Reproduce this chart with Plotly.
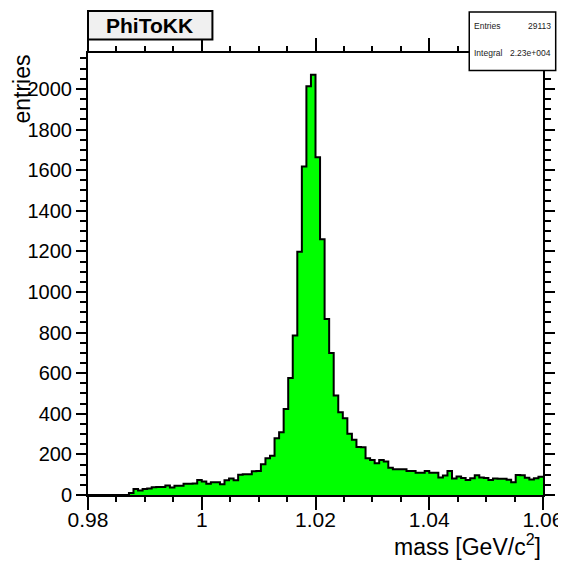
import numpy as np
import plotly.graph_objects as go

# ---- data ----
bin_low = 0.98
bin_high = 1.06
n_bins = 100
counts = [
    0, 0, 0, 0, 0, 0, 0, 0, 0, 10,
    30, 22, 30, 32, 38, 40, 40, 47, 37, 46,
    46, 56, 56, 57, 74, 66, 55, 63, 63, 53,
    73, 81, 73, 100, 102, 102, 117, 118, 151, 181,
    193, 280, 309, 423, 576, 785, 1198, 1618, 2013, 2070,
    1663, 1260, 867, 700, 490, 407, 378, 302, 272, 236,
    235, 181, 173, 156, 172, 165, 134, 127, 127, 127,
    118, 118, 110, 110, 118, 110, 110, 86, 96, 118,
    81, 91, 84, 74, 82, 97, 86, 84, 74, 81,
    80, 80, 75, 63, 99, 97, 85, 76, 82, 90,
]
x_tick_vals = [0.98, 1.0, 1.02, 1.04, 1.06]
x_tick_text = ["0.98", "1", "1.02", "1.04", "1.06"]
y_tick_vals = [0, 200, 400, 600, 800, 1000, 1200, 1400, 1600, 1800, 2000]
y_tick_text = [str(v) for v in y_tick_vals]
hist_title = "PhiToKK"
stats_labels = ["Entries", "Integral"]
stats_values = ["29113", "2.23e+004"]
x_title = "mass [GeV/c<sup>2</sup>]"
y_title = "entries"

edges = np.linspace(bin_low, bin_high, n_bins + 1)
xs = list(edges)
ys = list(counts) + [counts[-1]]

FONT = "Liberation Sans, Arial, Helvetica, sans-serif"

fig = go.Figure()
fig.add_trace(go.Scatter(
    x=xs, y=ys, mode="lines", line_shape="hv",
    line=dict(color="black", width=2),
    fill="tozeroy", fillcolor="#00ff00",
    hoverinfo="skip", showlegend=False,
))

# page body has an 8px margin, so the figure is drawn 8px in from the corner
OFF = 8
W, H = 566, 564
L, T = 80, 45
R = W - (543.3 - OFF)
B = H - (495 - OFF)
pw = W - L - R
ph = H - T - B


def px_x(p):
    return (p - OFF - L) / pw


def px_y(p):
    return (H - B - (p - OFF)) / ph


axis_common = dict(
    showline=True, linewidth=2, linecolor="black", mirror="allticks",
    ticks="outside", tickcolor="black", tickwidth=1.5,
    showgrid=False, zeroline=False,
)

fig.update_xaxes(
    range=[bin_low, bin_high], tickvals=x_tick_vals, ticktext=x_tick_text,
    ticklen=13, ticklabelstandoff=-8, ticklabeloverflow="allow",
    tickfont=dict(family=FONT, size=21, color="black"),
    minor=dict(dtick=0.005, tick0=0.98, ticklen=5, tickwidth=1.5,
               tickcolor="black", ticks="outside", showgrid=False),
    **axis_common,
)
fig.update_yaxes(
    range=[0, 2177], tickvals=y_tick_vals, ticktext=y_tick_text,
    ticklen=10,
    tickfont=dict(family=FONT, size=20, color="black"),
    minor=dict(dtick=50, tick0=0, ticklen=6, tickwidth=1.5,
               tickcolor="black", ticks="outside", showgrid=False),
    **axis_common,
)

shapes = [
    # title box
    dict(type="rect", xref="paper", yref="paper",
         x0=px_x(88), x1=px_x(212.5), y0=px_y(39.5), y1=px_y(11),
         fillcolor="#f0f0f0", line=dict(color="black", width=2), layer="above"),
    # stats box
    dict(type="rect", xref="paper", yref="paper",
         x0=px_x(469.5), x1=px_x(556), y0=px_y(70.5), y1=px_y(12),
         fillcolor="white", line=dict(color="black", width=1.5), layer="above"),
]

annotations = [
    dict(text="<b>%s</b>" % hist_title, xref="paper", yref="paper",
         x=px_x(150), y=px_y(25.5), xanchor="center", yanchor="middle",
         showarrow=False, font=dict(family=FONT, size=21, color="black")),
    dict(text=x_title, xref="paper", yref="paper",
         x=1.0, y=px_y(545), xanchor="right", yanchor="middle",
         showarrow=False, font=dict(family=FONT, size=23, color="black")),
    dict(text=y_title, xref="paper", yref="paper",
         x=px_x(21), y=1.0, xanchor="center", yanchor="top", textangle=-90,
         showarrow=False, font=dict(family=FONT, size=23, color="black")),
]
for i, (lab, val) in enumerate(zip(stats_labels, stats_values)):
    yy = px_y(26 + 27 * i)
    annotations.append(dict(text=lab, xref="paper", yref="paper",
                            x=px_x(472), y=yy, xanchor="left", yanchor="middle",
                            showarrow=False,
                            font=dict(family=FONT, size=8.5, color="#222")))
    annotations.append(dict(text=val, xref="paper", yref="paper",
                            x=px_x(553), y=yy, xanchor="right", yanchor="middle",
                            showarrow=False,
                            font=dict(family=FONT, size=8.5, color="#222")))

fig.update_layout(
    width=W, height=H,
    margin=dict(l=L, r=R, t=T, b=B, autoexpand=False),
    plot_bgcolor="white", paper_bgcolor="white",
    shapes=shapes, annotations=annotations,
    showlegend=False,
)

fig.write_html("out.html")
